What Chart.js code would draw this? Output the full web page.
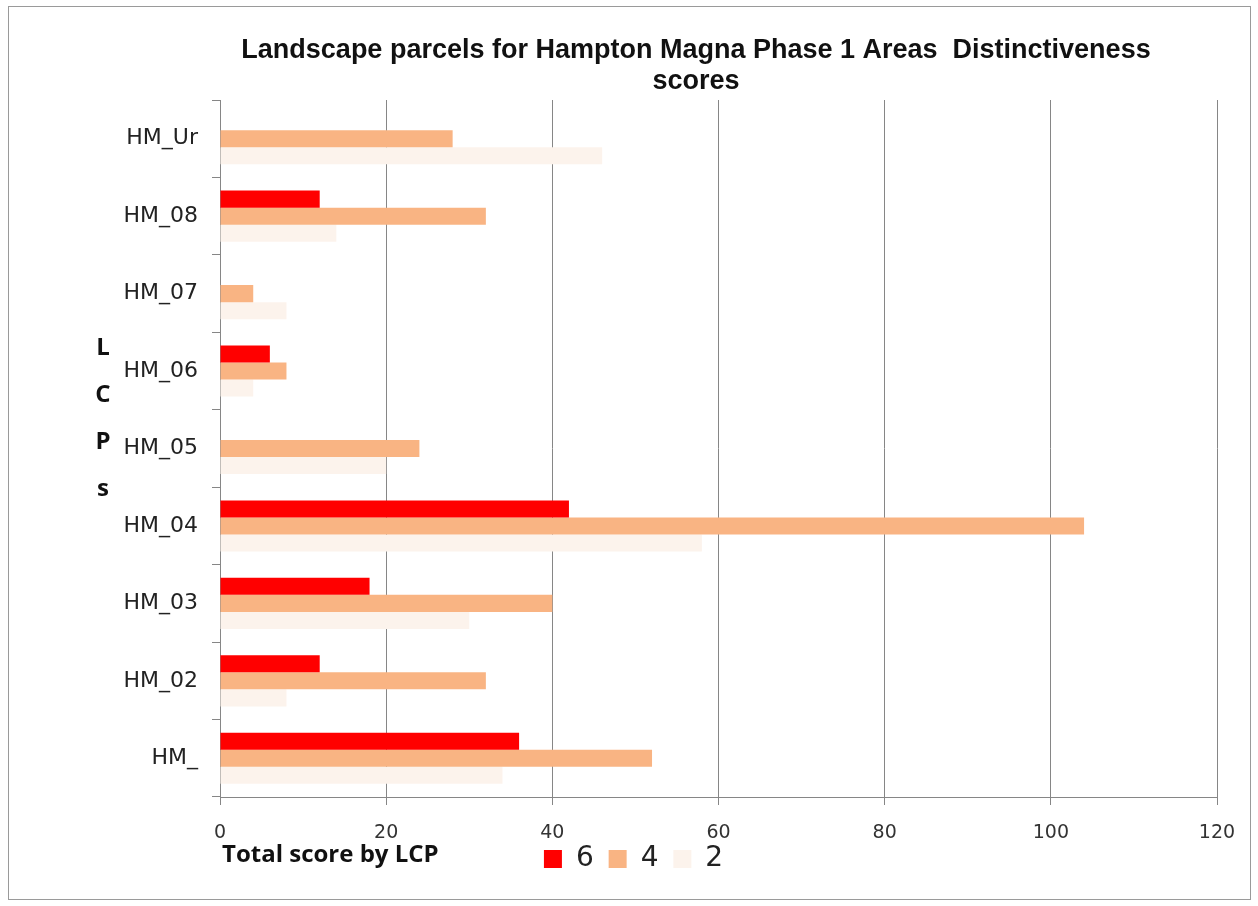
<!DOCTYPE html>
<html lang="en">
<head>
<meta charset="UTF-8">
<title>Hampton Magna Phase 1 - Distinctiveness scores</title>
<script src="https://cdn.jsdelivr.net/npm/chart.js@4.4.0/dist/chart.umd.min.js"></script>
<style>
  html, body { margin: 0; padding: 0; background: #fff; }
  .frame { position: absolute; left: 8px; top: 6px; width: 1241px; height: 892px; border: 1px solid #9a9a9a; }
  .wrap { position: absolute; left: 0; top: 0; width: 1258px; height: 906px; }
</style>
</head>
<body>
<div class="frame"></div>
<div class="wrap"><canvas id="scores"></canvas></div>
<script>
// parcels listed top to bottom
const parcels = ['HM_Ur', 'HM_08', 'HM_07', 'HM_06', 'HM_05', 'HM_04', 'HM_03', 'HM_02', 'HM_'];
const score6 = [0, 12, 0, 6, 0, 42, 18, 12, 36];
const score4 = [28, 32, 4, 8, 24, 104, 40, 32, 52];
const score2 = [46, 14, 8, 4, 20, 58, 30, 8, 34];

const titleLines = ['Landscape parcels for Hampton Magna Phase 1 Areas  Distinctiveness', 'scores'];
const axisLetters = ['L', 'C', 'P', 's'];
const xTitle = 'Total score by LCP';

// title, stacked y title and the x title sit outside the normal layout boxes
const extraText = {
  id: 'extraText',
  afterDraw(chart) {
    const ctx = chart.ctx;
    ctx.save();
    ctx.fillStyle = '#111';
    ctx.textBaseline = 'middle';
    ctx.textAlign = 'center';
    ctx.font = 'bold 27px "Liberation Sans", Arial, sans-serif';
    titleLines.forEach((t, i) => ctx.fillText(t, 696, 51 + i * 31, 935));
    ctx.font = 'bold 24px "Open Sans", sans-serif';
    axisLetters.forEach((c, i) => ctx.fillText(c, 103, 348 + i * 47));
    ctx.textAlign = 'left';
    ctx.fillText(xTitle, 222, 855);
    ctx.restore();
  }
};

new Chart(document.getElementById('scores'), {
  type: 'bar',
  data: {
    labels: parcels,
    datasets: [
      { label: '6', data: score6, backgroundColor: '#ff0000' },
      { label: '4', data: score4, backgroundColor: '#f9b483' },
      { label: '2', data: score2, backgroundColor: '#fcf3ec' }
    ]
  },
  options: {
    indexAxis: 'y',
    responsive: true,
    maintainAspectRatio: false,
    animation: false,
    categoryPercentage: 0.66,
    barPercentage: 1.0,
    layout: { padding: { left: 59, right: 41, top: 100, bottom: 23 } },
    scales: {
      x: {
        min: 0,
        max: 120,
        ticks: { stepSize: 20, color: '#333', font: { family: 'DejaVu Sans', size: 19 }, padding: 17 },
        grid: { color: '#868686', tickLength: 8 },
        border: { color: '#868686' },
        afterFit(s) { s.height = 42; }
      },
      y: {
        grid: { drawOnChartArea: false, drawTicks: true, tickLength: 8, color: '#868686', offset: true },
        border: { color: '#868686' },
        ticks: { color: '#222', font: { family: 'DejaVu Sans', size: 22 }, padding: 14 },
        afterFit(s) { s.width = 161; }
      }
    },
    plugins: {
      legend: {
        position: 'bottom',
        labels: {
          boxWidth: 18, boxHeight: 18, padding: 6, color: '#222',
          font: { family: 'DejaVu Sans', size: 28 },
          // trailing space keeps the items spread out with the tighter padding
          generateLabels(chart) {
            return Chart.defaults.plugins.legend.labels.generateLabels(chart)
              .map(item => Object.assign(item, { text: item.text + ' ' }));
          }
        }
      },
      title: { display: false },
      tooltip: { enabled: false }
    }
  },
  plugins: [extraText]
});
</script>
</body>
</html>
